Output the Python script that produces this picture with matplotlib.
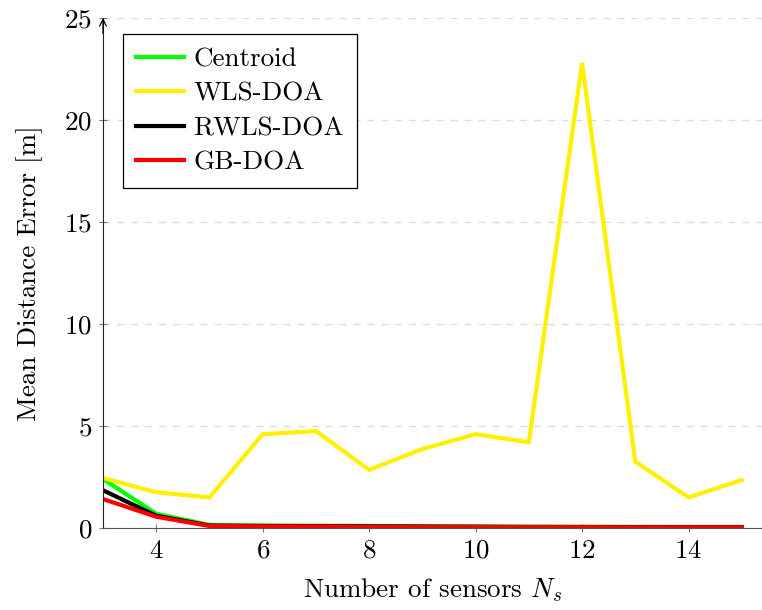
import matplotlib
matplotlib.use("Agg")
import matplotlib.pyplot as plt

plt.rcParams['font.family'] = ['cmr10', 'DejaVu Serif']
plt.rcParams['mathtext.fontset'] = 'cm'
plt.rcParams['axes.formatter.use_mathtext'] = True

n_sensors = [3, 4, 5, 6, 7, 8, 9, 10, 11, 12, 13, 14, 15]
centroid = [2.4, 0.7, 0.15, 0.12, 0.11, 0.1, 0.09, 0.08, 0.07, 0.06, 0.06, 0.05, 0.05]
wls_doa = [2.45, 1.75, 1.5, 4.6, 4.75, 2.85, 3.87, 4.6, 4.2, 22.8, 3.25, 1.5, 2.35]
rwls_doa = [1.85, 0.6, 0.12, 0.1, 0.09, 0.08, 0.07, 0.06, 0.05, 0.05, 0.04, 0.04, 0.04]
gb_doa = [1.42, 0.55, 0.1, 0.08, 0.07, 0.06, 0.05, 0.05, 0.04, 0.04, 0.03, 0.03, 0.03]

series = [
    ("Centroid", centroid, "#00ff00"),
    ("WLS-DOA", wls_doa, "#fff000"),
    ("RWLS-DOA", rwls_doa, "#000000"),
    ("GB-DOA", gb_doa, "#ff0000"),
]

FS = 19.5

fig = plt.figure(figsize=(7.62, 6.10), dpi=100)
ax = fig.add_axes([103/762, 1 - 528/610, 1 - 103/762, (528 - 18)/610])

for label, vals, col in series:
    ax.plot(n_sensors, vals, color=col, lw=3, label=label, solid_joinstyle='miter')

ax.set_xlim(3, 15.38)
ax.set_ylim(0, 25)
ax.set_xticks([4, 6, 8, 10, 12, 14])
ax.set_yticks([0, 5, 10, 15, 20, 25])

ax.spines['top'].set_visible(False)
ax.spines['right'].set_visible(False)
ax.spines['left'].set_color('#222222')
ax.spines['bottom'].set_color('#555555')
ax.tick_params(direction='inout', length=6, width=0.8, color='#777777',
               labelsize=FS, pad=5)
ax.yaxis.grid(True, linestyle=(0, (5, 5)), color='#dddddd', lw=1)
ax.set_axisbelow(True)

ax.annotate('', xy=(0, 1.0), xycoords='axes fraction', xytext=(0, 0.97),
            arrowprops=dict(arrowstyle='->', color='black', lw=0.9, shrinkA=0, shrinkB=0,
                            mutation_scale=12))

ax.set_xlabel(r'Number of sensors $N_s$', fontsize=FS, labelpad=10)
ax.set_ylabel('Mean Distance Error [m]', fontsize=FS, labelpad=15)

leg = ax.legend(loc='upper left', bbox_to_anchor=(0.030, 0.9686), fontsize=FS,
                frameon=True, fancybox=False, edgecolor='black', framealpha=1,
                borderaxespad=0, handlelength=1.75, handletextpad=0.35,
                borderpad=0.5, labelspacing=0.38)
leg.get_frame().set_linewidth(0.9)

fig.savefig('out.png', dpi=100)
